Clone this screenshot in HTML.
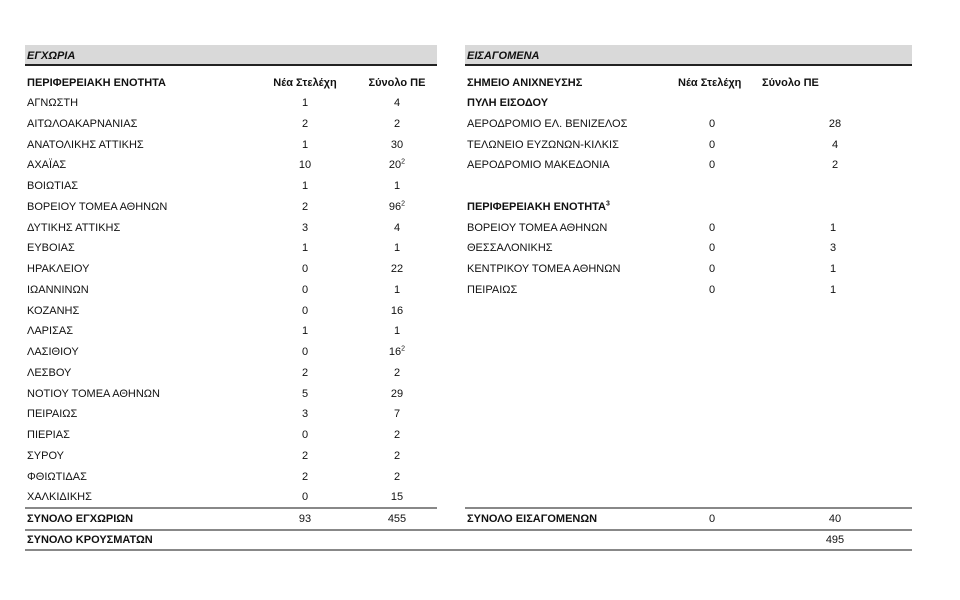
<!DOCTYPE html>
<html><head><meta charset="utf-8"><style>
body{margin:0;width:960px;height:600px;background:#fff;position:relative;font-family:"Liberation Sans","DejaVu Sans",sans-serif;font-size:11px;color:#111;overflow:hidden}
.t{position:absolute;line-height:14px;white-space:nowrap}
.c{position:absolute;line-height:14px;width:60px;text-align:center}
.b{font-weight:bold}
.g{position:absolute;background:#d9d9d9;height:19px}
.k{position:absolute;background:#222;height:2px}
.l{position:absolute;background:#888;height:2px}
sup{font-size:7px;line-height:0}
</style></head><body>
<div class="g" style="left:25px;top:45px;width:412px"></div>
<div class="k" style="left:25px;top:64px;width:412px"></div>
<div class="g" style="left:465px;top:45px;width:447px"></div>
<div class="k" style="left:465px;top:64px;width:447px"></div>
<div class="t b" style="left:27px;top:49px;font-style:italic">ΕΓΧΩΡΙΑ</div>
<div class="t b" style="left:467px;top:49px;font-style:italic">ΕΙΣΑΓΟΜΕΝΑ</div>

<div class="t b" style="left:27px;top:76px">ΠΕΡΙΦΕΡΕΙΑΚΗ ΕΝΟΤΗΤΑ</div>
<div class="c b" style="left:262px;top:76px;width:86px">Νέα Στελέχη</div>
<div class="c b" style="left:357px;top:76px;width:80px">Σύνολο ΠΕ</div>

<div class="t" style="left:27px;top:96px">ΑΓΝΩΣΤΗ</div><div class="c" style="left:275px;top:96px">1</div><div class="c" style="left:367px;top:96px">4</div>
<div class="t" style="left:27px;top:117px">ΑΙΤΩΛΟΑΚΑΡΝΑΝΙΑΣ</div><div class="c" style="left:275px;top:117px">2</div><div class="c" style="left:367px;top:117px">2</div>
<div class="t" style="left:27px;top:138px">ΑΝΑΤΟΛΙΚΗΣ ΑΤΤΙΚΗΣ</div><div class="c" style="left:275px;top:138px">1</div><div class="c" style="left:367px;top:138px">30</div>
<div class="t" style="left:27px;top:158px">ΑΧΑΪΑΣ</div><div class="c" style="left:275px;top:158px">10</div><div class="c" style="left:367px;top:158px">20<sup>2</sup></div>
<div class="t" style="left:27px;top:179px">ΒΟΙΩΤΙΑΣ</div><div class="c" style="left:275px;top:179px">1</div><div class="c" style="left:367px;top:179px">1</div>
<div class="t" style="left:27px;top:200px">ΒΟΡΕΙΟΥ ΤΟΜΕΑ ΑΘΗΝΩΝ</div><div class="c" style="left:275px;top:200px">2</div><div class="c" style="left:367px;top:200px">96<sup>2</sup></div>
<div class="t" style="left:27px;top:221px">ΔΥΤΙΚΗΣ ΑΤΤΙΚΗΣ</div><div class="c" style="left:275px;top:221px">3</div><div class="c" style="left:367px;top:221px">4</div>
<div class="t" style="left:27px;top:241px">ΕΥΒΟΙΑΣ</div><div class="c" style="left:275px;top:241px">1</div><div class="c" style="left:367px;top:241px">1</div>
<div class="t" style="left:27px;top:262px">ΗΡΑΚΛΕΙΟΥ</div><div class="c" style="left:275px;top:262px">0</div><div class="c" style="left:367px;top:262px">22</div>
<div class="t" style="left:27px;top:283px">ΙΩΑΝΝΙΝΩΝ</div><div class="c" style="left:275px;top:283px">0</div><div class="c" style="left:367px;top:283px">1</div>
<div class="t" style="left:27px;top:304px">ΚΟΖΑΝΗΣ</div><div class="c" style="left:275px;top:304px">0</div><div class="c" style="left:367px;top:304px">16</div>
<div class="t" style="left:27px;top:324px">ΛΑΡΙΣΑΣ</div><div class="c" style="left:275px;top:324px">1</div><div class="c" style="left:367px;top:324px">1</div>
<div class="t" style="left:27px;top:345px">ΛΑΣΙΘΙΟΥ</div><div class="c" style="left:275px;top:345px">0</div><div class="c" style="left:367px;top:345px">16<sup>2</sup></div>
<div class="t" style="left:27px;top:366px">ΛΕΣΒΟΥ</div><div class="c" style="left:275px;top:366px">2</div><div class="c" style="left:367px;top:366px">2</div>
<div class="t" style="left:27px;top:387px">ΝΟΤΙΟΥ ΤΟΜΕΑ ΑΘΗΝΩΝ</div><div class="c" style="left:275px;top:387px">5</div><div class="c" style="left:367px;top:387px">29</div>
<div class="t" style="left:27px;top:407px">ΠΕΙΡΑΙΩΣ</div><div class="c" style="left:275px;top:407px">3</div><div class="c" style="left:367px;top:407px">7</div>
<div class="t" style="left:27px;top:428px">ΠΙΕΡΙΑΣ</div><div class="c" style="left:275px;top:428px">0</div><div class="c" style="left:367px;top:428px">2</div>
<div class="t" style="left:27px;top:449px">ΣΥΡΟΥ</div><div class="c" style="left:275px;top:449px">2</div><div class="c" style="left:367px;top:449px">2</div>
<div class="t" style="left:27px;top:470px">ΦΘΙΩΤΙΔΑΣ</div><div class="c" style="left:275px;top:470px">2</div><div class="c" style="left:367px;top:470px">2</div>
<div class="t" style="left:27px;top:490px">ΧΑΛΚΙΔΙΚΗΣ</div><div class="c" style="left:275px;top:490px">0</div><div class="c" style="left:367px;top:490px">15</div>

<div class="t b" style="left:467px;top:76px">ΣΗΜΕΙΟ ΑΝΙΧΝΕΥΣΗΣ</div>
<div class="t b" style="left:678px;top:76px">Νέα Στελέχη</div>
<div class="t b" style="left:762px;top:76px">Σύνολο ΠΕ</div>
<div class="t b" style="left:467px;top:96px">ΠΥΛΗ ΕΙΣΟΔΟΥ</div>
<div class="t" style="left:467px;top:117px">ΑΕΡΟΔΡΟΜΙΟ ΕΛ. ΒΕΝΙΖΕΛΟΣ</div><div class="c" style="left:682px;top:117px">0</div><div class="c" style="left:805px;top:117px">28</div>
<div class="t" style="left:467px;top:138px">ΤΕΛΩΝΕΙΟ ΕΥΖΩΝΩΝ-ΚΙΛΚΙΣ</div><div class="c" style="left:682px;top:138px">0</div><div class="c" style="left:805px;top:138px">4</div>
<div class="t" style="left:467px;top:158px">ΑΕΡΟΔΡΟΜΙΟ ΜΑΚΕΔΟΝΙΑ</div><div class="c" style="left:682px;top:158px">0</div><div class="c" style="left:805px;top:158px">2</div>
<div class="t b" style="left:467px;top:200px">ΠΕΡΙΦΕΡΕΙΑΚΗ ΕΝΟΤΗΤΑ<sup>3</sup></div>
<div class="t" style="left:467px;top:221px">ΒΟΡΕΙΟΥ ΤΟΜΕΑ ΑΘΗΝΩΝ</div><div class="c" style="left:682px;top:221px">0</div><div class="c" style="left:803px;top:221px">1</div>
<div class="t" style="left:467px;top:241px">ΘΕΣΣΑΛΟΝΙΚΗΣ</div><div class="c" style="left:682px;top:241px">0</div><div class="c" style="left:803px;top:241px">3</div>
<div class="t" style="left:467px;top:262px">ΚΕΝΤΡΙΚΟΥ ΤΟΜΕΑ ΑΘΗΝΩΝ</div><div class="c" style="left:682px;top:262px">0</div><div class="c" style="left:803px;top:262px">1</div>
<div class="t" style="left:467px;top:283px">ΠΕΙΡΑΙΩΣ</div><div class="c" style="left:682px;top:283px">0</div><div class="c" style="left:803px;top:283px">1</div>

<div class="l" style="left:25px;top:507px;width:412px"></div>
<div class="l" style="left:465px;top:507px;width:447px"></div>
<div class="t b" style="left:27px;top:512px">ΣΥΝΟΛΟ ΕΓΧΩΡΙΩΝ</div><div class="c" style="left:275px;top:512px">93</div><div class="c" style="left:367px;top:512px">455</div>
<div class="t b" style="left:467px;top:512px">ΣΥΝΟΛΟ ΕΙΣΑΓΟΜΕΝΩΝ</div><div class="c" style="left:682px;top:512px">0</div><div class="c" style="left:805px;top:512px">40</div>
<div class="l" style="left:25px;top:529px;width:887px"></div>
<div class="t b" style="left:27px;top:533px">ΣΥΝΟΛΟ ΚΡΟΥΣΜΑΤΩΝ</div><div class="c" style="left:805px;top:533px">495</div>
<div class="l" style="left:25px;top:549px;width:887px"></div>
</body></html>
